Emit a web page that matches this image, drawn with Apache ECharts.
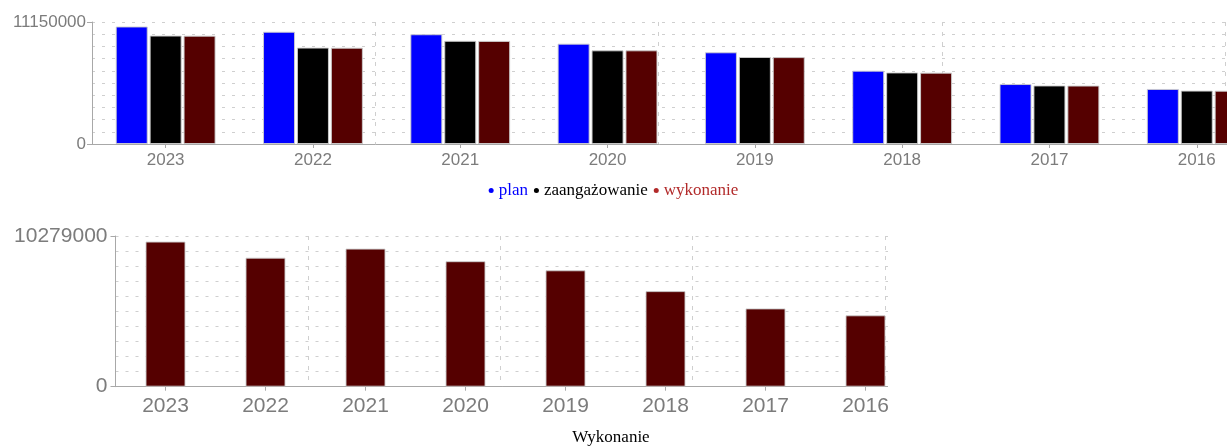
<!DOCTYPE html>
<html>
<head>
<meta charset="utf-8">
<script src="https://cdn.jsdelivr.net/npm/echarts@6/dist/echarts.min.js"></script>
<style>
  html, body { margin: 0; padding: 0; background: #fff; }
  #overview { position: absolute; left: 0; top: 0; width: 1227px; height: 205px; }
  #execution { position: absolute; left: 0; top: 205px; width: 888px; height: 242px; overflow: hidden; }
</style>
</head>
<body>
<div id="overview"></div>
<div id="execution"></div>
<script>
// Budget per year (PLN)
const YEARS = ['2023', '2022', '2021', '2020', '2019', '2018', '2017', '2016'];
const PLAN = [10740000, 10260000, 10030000, 9170000, 8380000, 6700000, 5480000, 5030000];
const ZAANGAZOWANIE = [9910000, 8810000, 9430000, 8560000, 7950000, 6540000, 5350000, 4880000];
const WYKONANIE = [9900000, 8800000, 9420000, 8560000, 7940000, 6520000, 5340000, 4870000];

// Value-axis extents and the only labelled ticks
const OVERVIEW_MAX = 11150000;
const EXECUTION_MAX = 10279000;
const OVERVIEW_TICKS = [0, OVERVIEW_MAX];
const EXECUTION_TICKS = [0, EXECUTION_MAX];

const SERIES_NAMES = ['plan', 'zaangażowanie', 'wykonanie'];

const AXIS_GREY = '#a8a8a8';
const LABEL_GREY = '#7c7c7c';
const GRID_GREY = '#cfcfcf';
const SANS = '"Liberation Sans", Arial, Helvetica, sans-serif';
const SERIF = '"Liberation Serif", "Times New Roman", serif';

// Labelled value axis: line, ticks and labels only at the extremes
function valueAxis(max, ticks, fontSize, margin) {
  return {
    type: 'value', min: 0, max: max, position: 'left',
    axisLine: { show: true, lineStyle: { color: AXIS_GREY, width: 1 } },
    axisTick: { show: true, length: 5, customValues: ticks, lineStyle: { color: AXIS_GREY } },
    axisLabel: {
      customValues: ticks, color: LABEL_GREY, fontFamily: SANS, fontSize: fontSize, margin: margin,
      formatter: function (v) { return String(v); }
    },
    splitLine: { show: false }
  };
}

// Companion value axis that draws the ten dotted horizontal guides
function valueGuideAxis(max) {
  return {
    type: 'value', min: 0, max: max, interval: max / 10, position: 'left',
    axisLine: { show: false }, axisTick: { show: false }, axisLabel: { show: false },
    splitLine: { show: true, lineStyle: { color: GRID_GREY, type: [3, 7], width: 1 } }
  };
}

function categoryAxis(fontSize, margin) {
  return {
    type: 'category', data: YEARS,
    axisLine: { show: true, lineStyle: { color: AXIS_GREY, width: 1 } },
    axisTick: { show: true, alignWithLabel: true, length: 4, lineStyle: { color: AXIS_GREY } },
    axisLabel: { color: LABEL_GREY, fontFamily: SANS, fontSize: fontSize, margin: margin, interval: 0 },
    splitLine: { show: false }
  };
}

// Hidden value axis that only supplies the sparse vertical dashed guides
function guideAxis(max) {
  return {
    type: 'value', min: 0, max: max, interval: 1, position: 'bottom',
    axisLine: { show: false }, axisTick: { show: false }, axisLabel: { show: false },
    splitLine: { show: true, lineStyle: { color: GRID_GREY, type: [4, 6], width: 1 } }
  };
}

const barBorder = { borderColor: 'rgba(205,205,205,0.9)', borderWidth: 1 };

// Top chart: plan / commitment / execution side by side
const overview = echarts.init(document.getElementById('overview'), null, { renderer: 'canvas' });
overview.setOption({
  animation: false,
  grid: { left: 92, top: 22, width: 1178.4, height: 122, containLabel: false, outerBoundsMode: 'none' },
  legend: {
    top: 177, left: 'center', icon: 'circle', itemWidth: 5, itemHeight: 5, itemGap: 6,
    textStyle: { fontFamily: SERIF, fontSize: 17 },
    itemStyle: { borderWidth: 0 },
    data: [
      { name: SERIES_NAMES[0], itemStyle: { color: '#0000ff', borderWidth: 0 }, textStyle: { color: '#0000ff' } },
      { name: SERIES_NAMES[1], itemStyle: { color: '#000000', borderWidth: 0 }, textStyle: { color: '#000000' } },
      { name: SERIES_NAMES[2], itemStyle: { color: '#b22a2a', borderWidth: 0 }, textStyle: { color: '#b22a2a' } }
    ],
    selectedMode: false
  },
  xAxis: [categoryAxis(17, 8), guideAxis(4.16)],
  yAxis: [valueAxis(OVERVIEW_MAX, OVERVIEW_TICKS, 17, 6), valueGuideAxis(OVERVIEW_MAX)],
  series: [
    { name: SERIES_NAMES[0], type: 'bar', data: PLAN, barWidth: 32, barGap: '6%',
      itemStyle: Object.assign({ color: '#0000ff' }, barBorder) },
    { name: SERIES_NAMES[1], type: 'bar', data: ZAANGAZOWANIE, barWidth: 32, barGap: '6%',
      itemStyle: Object.assign({ color: '#000000' }, barBorder) },
    { name: SERIES_NAMES[2], type: 'bar', data: WYKONANIE, barWidth: 32, barGap: '6%',
      itemStyle: Object.assign({ color: '#550000' }, barBorder) }
  ]
});

// Bottom chart: execution only
const execution = echarts.init(document.getElementById('execution'), null, { renderer: 'canvas' });
execution.setOption({
  animation: false,
  grid: { left: 115.5, top: 31, width: 800, height: 150.7, containLabel: false, outerBoundsMode: 'none' },
  xAxis: [categoryAxis(21, 9), guideAxis(4.158)],
  yAxis: [valueAxis(EXECUTION_MAX, EXECUTION_TICKS, 21, 8), valueGuideAxis(EXECUTION_MAX)],
  graphic: [{
    type: 'text', x: 611, y: 233,
    style: { text: 'Wykonanie', align: 'center', verticalAlign: 'middle', fill: '#000', font: '17px ' + SERIF }
  }],
  series: [
    { name: SERIES_NAMES[2], type: 'bar', data: WYKONANIE, barWidth: 40,
      itemStyle: Object.assign({ color: '#550000' }, barBorder) }
  ]
});
</script>
</body>
</html>
